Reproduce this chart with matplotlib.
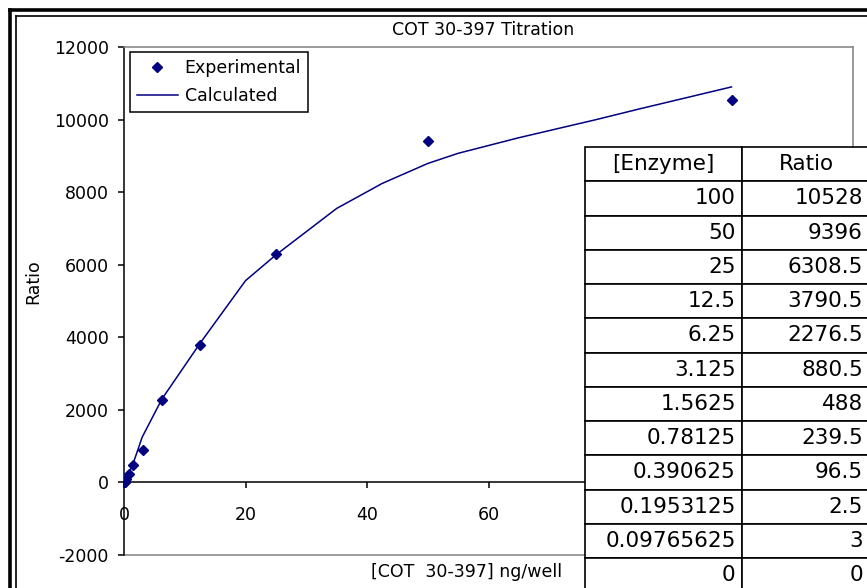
import matplotlib
matplotlib.use("Agg")
import matplotlib.pyplot as plt
from matplotlib.lines import Line2D

plt.rcParams["font.family"] = ["DejaVu Sans"]
plt.rcParams["axes.unicode_minus"] = False

# measured points (also shown in the table)
enzyme = [100, 50, 25, 12.5, 6.25, 3.125, 1.5625, 0.78125, 0.390625, 0.1953125, 0.09765625, 0]
ratio = [10528, 9396, 6308.5, 3790.5, 2276.5, 880.5, 488, 239.5, 96.5, 2.5, 3, 0]

# fitted curve
calc_x = [0, 1.5, 3, 6.25, 12.5, 20, 25, 35, 42.5, 50, 55, 65, 77.5, 85, 100]
calc_y = [0, 520, 1250, 2300, 3830, 5560, 6270, 7550, 8240, 8790, 9070, 9500, 9990, 10300, 10900]

col_labels = ["[Enzyme]", "Ratio"]

W, H = 867, 588
fig = plt.figure(figsize=(W / 100, H / 100), dpi=100)
fig.patch.set_facecolor("white")

# chart area frame (double line on left/top, the rest is cropped)
fig.add_artist(Line2D([10 / W, 10 / W], [0, 1 - 10 / H], color="black", lw=2.6))
fig.add_artist(Line2D([10 / W, 1], [1 - 10 / H, 1 - 10 / H], color="black", lw=2.6))
fig.add_artist(Line2D([16 / W, 16 / W], [0, 1 - 16 / H], color="black", lw=1.2))
fig.add_artist(Line2D([16 / W, 1], [1 - 16 / H, 1 - 16 / H], color="black", lw=1.2))

ax = fig.add_axes([124 / W, 1 - 555 / H, 729 / W, 508 / H])
ax.plot(calc_x, calc_y, color="#000080", lw=1.1, label="Calculated", zorder=2)
ax.plot(enzyme, ratio, linestyle="none", marker="D", markersize=5.5,
        color="#000080", label="Experimental", zorder=3)

ax.set_xlim(0, 120)
ax.set_ylim(-2000, 12000)
ax.set_xticks(range(0, 101, 20))
ax.set_yticks(range(-2000, 12001, 2000))

ax.spines["bottom"].set_position(("data", 0))
ax.spines["bottom"].set_color("black")
ax.spines["left"].set_color("black")
for s in ["top", "right"]:
    ax.spines[s].set_color("#808080")
for s in ax.spines.values():
    s.set_linewidth(1.1)
ax.axhline(-2000, color="#808080", lw=1.1, clip_on=False)

ax.tick_params(axis="x", direction="out", length=4, width=1.1, pad=13, labelsize=12.5)
ax.tick_params(axis="y", direction="out", length=4, width=1.1, pad=7, labelsize=12.5)

handles, labels = ax.get_legend_handles_labels()
leg = ax.legend(handles[::-1], labels[::-1], loc="upper left", bbox_to_anchor=(0.008, 0.99),
                borderaxespad=0, fontsize=12.5, fancybox=False, framealpha=1,
                edgecolor="black", handlelength=2.35, handletextpad=0.4,
                labelspacing=0.6, borderpad=0.4)
leg.get_frame().set_linewidth(1.1)

fig.text(483 / W, 1 - 30 / H, "COT 30-397 Titration", ha="center", va="center", fontsize=12.5)
fig.text(467 / W, 1 - 572 / H, "[COT  30-397] ng/well", ha="center", va="center", fontsize=12.5)
fig.text(33 / W, 1 - 282 / H, "Ratio", ha="center", va="center", rotation=90, fontsize=12.5)


def fmt(v):
    return ("%.10f" % v).rstrip("0").rstrip(".")


cells = [[fmt(e), fmt(r)] for e, r in zip(enzyme, ratio)]
tab_top, row_h = 147, 34.25
tab_h = row_h * (len(cells) + 1)
tab_l, tab_r = 585, 870
ax_t = fig.add_axes([tab_l / W, 1 - (tab_top + tab_h) / H, (tab_r - tab_l) / W, tab_h / H])
ax_t.axis("off")
w1 = 157 / (tab_r - tab_l)
tbl = ax_t.table(cellText=cells, colLabels=col_labels, cellLoc="right",
                 colWidths=[w1, 1 - w1], bbox=[0, 0, 1, 1])
tbl.auto_set_font_size(False)
for (r, c), cell in tbl.get_celld().items():
    cell.set_linewidth(1.2)
    cell.set_edgecolor("black")
    cell.set_facecolor("white")
    cell.get_text().set_fontsize(15.5)
    cell.PAD = 0.04 if c == 0 else 0.055
    if r == 0:
        cell.get_text().set_horizontalalignment("center")
        cell._loc = "center"

fig.savefig("out.png", dpi=100)
